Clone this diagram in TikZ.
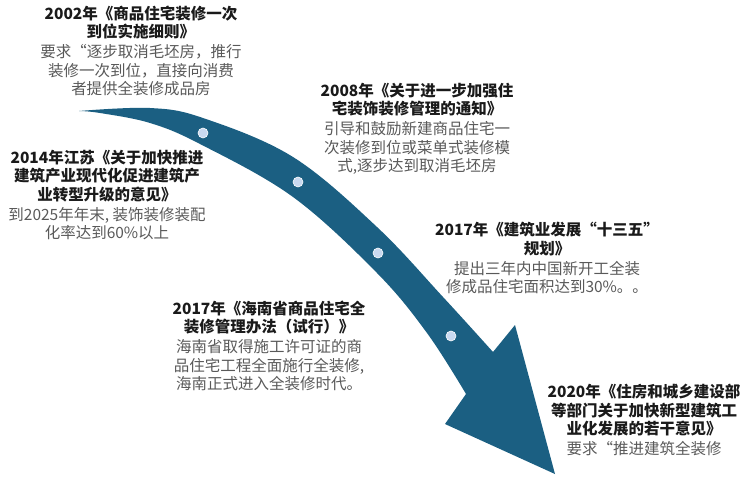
\documentclass[tikz,border=0pt]{standalone}
\usepackage{fontspec}
\setmainfont{Noto Sans CJK SC}
\usepackage{tikz}

\definecolor{arrowblue}{HTML}{1B5F82}
\definecolor{dotblue}{HTML}{C9D9F0}
\definecolor{titlegray}{HTML}{1A1A1A}
\definecolor{bodygray}{HTML}{595959}

\tikzset{
    event/.style={align=center, inner sep=0pt, font=\fontsize{15.5}{18.5}\selectfont},
    stop/.style={fill=dotblue, draw=white, line width=0.6pt}
}
\newcommand{\evtitle}[1]{\textcolor{titlegray}{\bfseries #1}}
\newcommand{\evbody}[1]{\textcolor{bodygray}{#1}}

\begin{document}
\begin{tikzpicture}[x=1pt,y=-1pt]
    \useasboundingbox (0,0) rectangle (750,488);

    % curved arrow
    \fill[arrowblue] plot[smooth, tension=0.6] coordinates {(79,111) (150,108) (203,118) (293,157) (377,227) (443,297) (493,352)}
        -- (515,325) -- (555,474) -- (445,424)
        -- plot[smooth, tension=0.6] coordinates {(466,394) (427,333) (377,273) (293,197) (200,144) (150,123) (100,113) (79,111)}
        -- cycle;

    % stops on the arrow
    \foreach \px/\py in {203/133, 298/182, 378/253, 451/336}
        \filldraw[stop] (\px,\py) circle (5pt);

    % events
    \node[event] (e2002) at (141,51) {\evtitle{2002年《商品住宅装修一次}\\ \evtitle{到位实施细则》}\\[1.5pt]
        \evbody{要求“逐步取消毛坯房，推行}\\ \evbody{装修一次到位，直接向消费}\\ \evbody{者提供全装修成品房}};
    \node[event] (e2008) at (417,129) {\evtitle{2008年《关于进一步加强住}\\ \evtitle{宅装饰装修管理的通知》}\\[1.5pt]
        \evbody{引导和鼓励新建商品住宅一}\\ \evbody{次装修到位或菜单式装修模}\\ \evbody{式,逐步达到取消毛坯房}};
    \node[event] (e2014) at (107,195) {\evtitle{2014年江苏《关于加快推进}\\ \evtitle{建筑产业现代化促进建筑产}\\ \evtitle{业转型升级的意见》}\\[1.5pt]
        \evbody{到2025年年末, 装饰装修装配}\\ \evbody{化率达到60\%以上}};
    \node[event] (e2017a) at (547,258) {\evtitle{2017年《建筑业发展“十三五”}\\ \evtitle{规划》}\\[1.5pt]
        \evbody{提出三年内中国新开工全装}\\ \evbody{修成品住宅面积达到30\%。。}};
    \node[event] (e2017b) at (269,346) {\evtitle{2017年《海南省商品住宅全}\\ \evtitle{装修管理办法（试行）》}\\[1.5pt]
        \evbody{海南省取得施工许可证的商}\\ \evbody{品住宅工程全面施行全装修,}\\ \evbody{海南正式进入全装修时代。}};
    \node[event] (e2020) at (644,420) {\evtitle{2020年《住房和城乡建设部}\\ \evtitle{等部门关于加快新型建筑工}\\ \evtitle{业化发展的若干意见》}\\[1.5pt]
        \evbody{要求“推进建筑全装修}};
\end{tikzpicture}
\end{document}
